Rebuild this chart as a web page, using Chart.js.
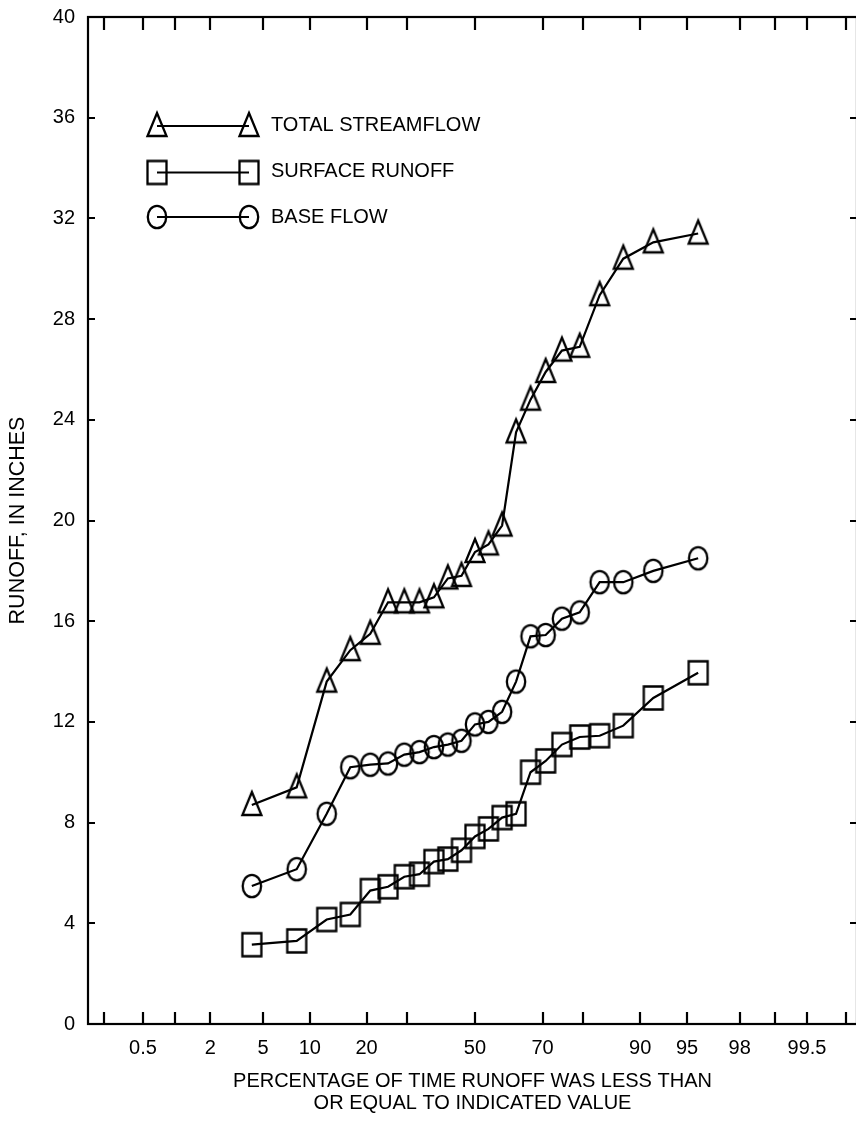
<!DOCTYPE html>
<html><head><meta charset="utf-8">
<script src="https://cdn.jsdelivr.net/npm/chart.js@4.4.0/dist/chart.umd.min.js"></script>
<style>
html,body{margin:0;padding:0;background:#fff;overflow:hidden;}
#wrap{width:880px;height:1124px;}
canvas{display:block;}
</style></head><body>
<div id="wrap"><canvas id="c" width="880" height="1124"></canvas></div>
<script>
// ---- data ----
const percentTime = [4.17, 8.33, 12.5, 16.67, 20.83, 25, 29.17, 33.33, 37.5, 41.67, 45.83, 50, 54.17, 58.33, 62.5, 66.67, 70.83, 75, 79.17, 83.33, 87.5, 91.67, 95.83];
const totalStreamflow = [8.7, 9.4, 13.6, 14.85, 15.5, 16.75, 16.75, 16.75, 16.95, 17.7, 17.8, 18.75, 19.05, 19.8, 23.5, 24.8, 25.9, 26.75, 26.9, 28.95, 30.4, 31.05, 31.4];
const surfaceRunoff = [3.15, 3.3, 4.15, 4.35, 5.3, 5.45, 5.85, 5.95, 6.45, 6.55, 6.9, 7.45, 7.75, 8.2, 8.35, 10.0, 10.45, 11.1, 11.4, 11.45, 11.85, 12.95, 13.95];
const baseFlow = [5.48, 6.15, 8.35, 10.2, 10.3, 10.35, 10.7, 10.8, 11.0, 11.1, 11.25, 11.9, 12.0, 12.4, 13.6, 15.4, 15.45, 16.1, 16.35, 17.55, 17.55, 18.0, 18.5];
const xTickValues = [0.2, 0.5, 1, 2, 5, 10, 20, 30, 50, 70, 80, 90, 95, 98, 99, 99.5, 99.8];
const xTickLabels = ['', '0.5', '', '2', '5', '10', '20', '', '50', '70', '', '90', '95', '98', '', '99.5', ''];
const yTickValues = [0, 4, 8, 12, 16, 20, 24, 28, 32, 36, 40];
const seriesNames = ['TOTAL STREAMFLOW', 'SURFACE RUNOFF', 'BASE FLOW'];
const xTitle = ['PERCENTAGE OF TIME RUNOFF WAS LESS THAN', 'OR EQUAL TO INDICATED VALUE'];
const yTitle = 'RUNOFF, IN INCHES';

const FONT = '"Liberation Sans", Arial, sans-serif';

// ---- normal probability helpers ----
function probit(p) {
  const a=[-3.969683028665376e+01,2.209460984245205e+02,-2.759285104469687e+02,1.383577518672690e+02,-3.066479806614716e+01,2.506628277459239e+00];
  const b=[-5.447609879822406e+01,1.615858368580409e+02,-1.556989798598866e+02,6.680131188771972e+01,-1.328068155288572e+01];
  const c=[-7.784894002430293e-03,-3.223964580411365e-01,-2.400758277161838e+00,-2.549732539343734e+00,4.374664141464968e+00,2.938163982698783e+00];
  const d=[7.784695709041462e-03,3.224671290700398e-01,2.445134137142996e+00,3.754408661907416e+00];
  const pl=0.02425, ph=1-pl; let q,r;
  if(p<pl){q=Math.sqrt(-2*Math.log(p));return (((((c[0]*q+c[1])*q+c[2])*q+c[3])*q+c[4])*q+c[5])/((((d[0]*q+d[1])*q+d[2])*q+d[3])*q+1);}
  if(p<=ph){q=p-0.5;r=q*q;return (((((a[0]*r+a[1])*r+a[2])*r+a[3])*r+a[4])*r+a[5])*q/(((((b[0]*r+b[1])*r+b[2])*r+b[3])*r+b[4])*r+1);}
  q=Math.sqrt(-2*Math.log(1-p));return -(((((c[0]*q+c[1])*q+c[2])*q+c[3])*q+c[4])*q+c[5])/((((d[0]*q+d[1])*q+d[2])*q+d[3])*q+1);
}
function normCdf(z){
  const t=1/(1+0.2316419*Math.abs(z));
  const dd=0.3989423*Math.exp(-z*z/2);
  let p=dd*t*(0.3193815+t*(-0.3565638+t*(1.781478+t*(-1.821256+t*1.330274))));
  return z>0?1-p:p;
}

class ProbabilityScale extends Chart.Scale {
  determineDataLimits(){ this.min = this.options.min; this.max = this.options.max; }
  buildTicks(){ return xTickValues.map(v => ({value: v})); }
  configure(){ super.configure(); this._zMin = probit(this.min/100); this._zMax = probit(this.max/100); }
  getPixelForValue(v){ return this.getPixelForDecimal((probit(v/100) - this._zMin) / (this._zMax - this._zMin)); }
  getValueForPixel(px){ const d = this.getDecimalForPixel(px); return 100*normCdf(this._zMin + d*(this._zMax - this._zMin)); }
  getLabelForValue(v){ return String(v); }
}
ProbabilityScale.id = 'probability';
ProbabilityScale.defaults = {};
Chart.register(ProbabilityScale);

// ---- marker images ----
function makeMarker(kind){
  const c = document.createElement('canvas'); c.width = 28; c.height = 34;
  const g = c.getContext('2d'); g.strokeStyle = '#000'; g.lineWidth = 2.3; g.lineJoin = 'miter';
  const cx = 14, cy = 17;
  g.beginPath();
  if (kind === 'tri') { g.moveTo(cx, cy-13); g.lineTo(cx+9.5, cy+10); g.lineTo(cx-9.5, cy+10); g.closePath(); }
  else if (kind === 'sq') { g.rect(cx-9.5, cy-11.5, 19, 23); }
  else { g.ellipse(cx, cy, 9.2, 11.2, 0, 0, 2*Math.PI); }
  g.stroke();
  return c;
}
const triImg = makeMarker('tri'), sqImg = makeMarker('sq'), cirImg = makeMarker('cir');

function pts(ys){ return percentTime.map((x,i) => ({x: x, y: ys[i]})); }
function ds(label, ys, img){
  return { label, data: pts(ys), borderColor:'#000', borderWidth:2.2, backgroundColor:'transparent',
    pointStyle: img, pointRadius: 10, pointHoverRadius: 10, tension: 0, fill:false };
}

const framePlugin = {
  id: 'frame',
  afterDraw(chart){
    const {ctx, chartArea:a} = chart;
    const xs = chart.scales.x, ys = chart.scales.y;
    ctx.save();
    ctx.strokeStyle = '#000'; ctx.lineWidth = 2.2; ctx.lineCap = 'butt';
    ctx.strokeRect(a.left, a.top, a.right - a.left, a.bottom - a.top);
    ctx.beginPath();
    xs.ticks.forEach(t => {
      const px = Math.round(xs.getPixelForValue(t.value));
      ctx.moveTo(px, a.bottom); ctx.lineTo(px, a.bottom - 12);
      ctx.moveTo(px, a.top); ctx.lineTo(px, a.top + 13);
    });
    ys.ticks.forEach(t => {
      const py = Math.round(ys.getPixelForValue(t.value));
      ctx.moveTo(a.left, py); ctx.lineTo(a.left + 7, py);
      ctx.moveTo(a.right, py); ctx.lineTo(a.right - 7, py);
    });
    ctx.stroke();
    // legend
    const rows = [
      {img: triImg, y: 126, ty: 125, text: seriesNames[0]},
      {img: sqImg, y: 172.5, ty: 171.5, text: seriesNames[1]},
      {img: cirImg, y: 217, ty: 217, text: seriesNames[2]}
    ];
    rows.forEach(r => {
      ctx.beginPath(); ctx.lineWidth = 2.2;
      ctx.moveTo(157, r.y); ctx.lineTo(249, r.y); ctx.stroke();
      ctx.drawImage(r.img, 157 - 14, r.y - 17);
      ctx.drawImage(r.img, 249 - 14, r.y - 17);
      ctx.fillStyle = '#000'; ctx.font = '20px ' + FONT; ctx.textBaseline = 'middle'; ctx.textAlign = 'left';
      ctx.fillText(r.text, 271, r.ty);
    });
    ctx.restore();
  }
};

new Chart(document.getElementById('c'), {
  type: 'line',
  data: { datasets: [
    ds(seriesNames[0], totalStreamflow, triImg),
    ds(seriesNames[1], surfaceRunoff, sqImg),
    ds(seriesNames[2], baseFlow, cirImg)
  ]},
  options: {
    responsive: false, animation: false, devicePixelRatio: 1,
    layout: { padding: { top: 17, right: 23, left: 0, bottom: 0 } },
    plugins: { legend: { display: false }, tooltip: { enabled: false } },
    scales: {
      x: {
        type: 'probability', position: 'bottom', min: 0.134, max: 99.848,
        grid: { display: false, drawTicks: false }, border: { display: false },
        ticks: { autoSkip: false, maxRotation: 0, minRotation: 0, padding: 12, color: '#000',
                 font: { family: FONT, size: 20 }, callback: (v, i) => xTickLabels[i] },
        title: { display: true, text: xTitle, color: '#000', font: { family: FONT, size: 20, lineHeight: 1.1 }, padding: { top: 0, bottom: 10 } },
        afterFit: s => { s.height = 100; s.paddingLeft = 0; s.paddingRight = 0; }
      },
      y: {
        type: 'linear', min: 0, max: 40,
        afterBuildTicks: s => { s.ticks = yTickValues.map(v => ({value: v})); },
        grid: { display: false, drawTicks: false }, border: { display: false },
        ticks: { padding: 13, color: '#000', font: { family: FONT, size: 20 } },
        title: { display: true, text: yTitle, color: '#000', font: { family: FONT, size: 21.5, lineHeight: 1.2 }, padding: { top: 5.1, bottom: 0 } },
        afterFit: s => { s.width = 88; s.paddingTop = 0; s.paddingBottom = 0; }
      }
    }
  },
  plugins: [framePlugin]
});
</script>
</body></html>
